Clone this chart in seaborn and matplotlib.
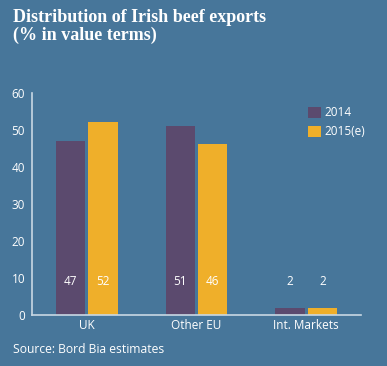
import matplotlib
matplotlib.use("Agg")
import matplotlib.pyplot as plt
import seaborn as sns
import pandas as pd
from matplotlib.ticker import FixedLocator

categories = ["UK", "Other EU", "Int. Markets"]
series_names = ["2014", "2015(e)"]
values_2014 = [47, 51, 2]
values_2015 = [52, 46, 2]
y_ticks = [0, 10, 20, 30, 40, 50, 60]

title = "Distribution of Irish beef exports\n(% in value terms)"
source = "Source: Bord Bia estimates"

bg = "#47769A"
colors = ["#5B4A6E", "#EFAF2A"]
axis_col = "#C9D8E4"
text_col = "#FFFFFF"

df = pd.DataFrame({
    "category": categories * 2,
    "series": [series_names[0]] * 3 + [series_names[1]] * 3,
    "value": values_2014 + values_2015,
})

sns.set_style("white")
plt.rcParams["font.family"] = ["Open Sans", "DejaVu Sans"]

fig = plt.figure(figsize=(3.87, 3.66), dpi=100, facecolor=bg)
ax = fig.add_axes([0.0827, 0.1393, 0.8501, 0.6077])
ax.set_facecolor(bg)

sns.barplot(data=df, x="category", y="value", hue="series", order=categories,
            hue_order=series_names, palette=colors, width=0.59, gap=0.09,
            saturation=1, ax=ax, legend=True, linewidth=0, edgecolor="none")

ax.set_xlim(-0.5, 2.5)
ax.set_ylim(0, 60)
ax.set_yticks(y_ticks)
ax.set_xlabel("")
ax.set_ylabel("")

for s in ["top", "right"]:
    ax.spines[s].set_visible(False)
for s in ["left", "bottom"]:
    ax.spines[s].set_color(axis_col)
    ax.spines[s].set_linewidth(1.2)

ax.tick_params(axis="y", direction="in", length=5, width=1.2, color=axis_col,
               labelcolor=text_col, labelsize=8.5, pad=5)
ax.tick_params(axis="x", which="major", length=0, labelcolor=text_col, labelsize=8.5, pad=3)
ax.xaxis.set_minor_locator(FixedLocator([0.5, 1.5, 2.5]))
ax.tick_params(axis="x", which="minor", direction="in", length=4, width=1.2, color=axis_col)

# value labels
for i, cont in enumerate(ax.containers):
    for bar, v in zip(cont, [values_2014, values_2015][i]):
        ax.text(bar.get_x() + bar.get_width() / 2, 9, f"{v}", ha="center", va="center",
                color=text_col, fontsize=8.5)

leg = ax.legend(loc="upper left", bbox_to_anchor=(0.783, 0.722), bbox_transform=fig.transFigure,
                frameon=False, handlelength=1.1, handleheight=1.1, handletextpad=0.35,
                labelspacing=0.5, fontsize=8.5, borderaxespad=0)
for t in leg.get_texts():
    t.set_color(text_col)
for h in leg.legend_handles:
    h.set_edgecolor("none")
    h.set_linewidth(0)

fig.text(0.034, 0.975, title, ha="left", va="top", color=text_col, fontsize=13,
         fontweight="bold", family=["Liberation Serif", "DejaVu Serif"], linespacing=1.05)
fig.text(0.034, 0.045, source, ha="left", va="center", color=text_col, fontsize=8.7)

fig.savefig("out.png", dpi=100, facecolor=bg)
